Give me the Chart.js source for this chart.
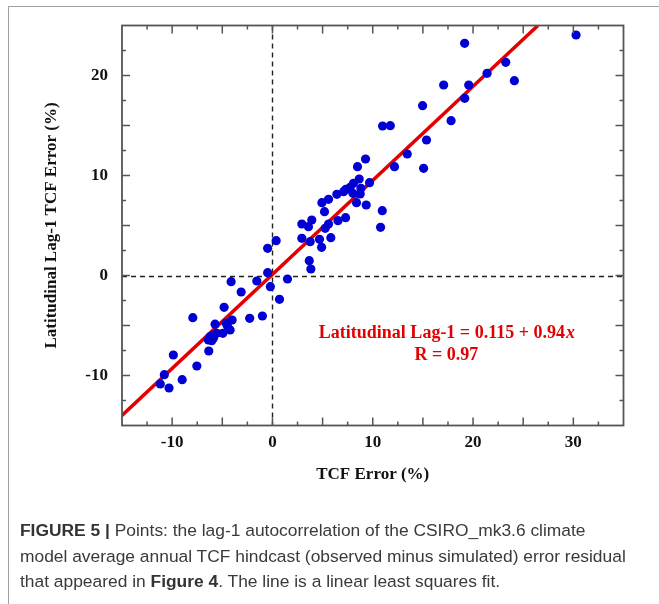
<!DOCTYPE html>
<html><head><meta charset="utf-8">
<script src="https://cdn.jsdelivr.net/npm/chart.js@4/dist/chart.umd.min.js"></script>
<style>
html,body{margin:0;padding:0;background:#fff;}
#wrap{position:relative;width:659px;height:604px;overflow:hidden;background:#fff;}
#frame{position:absolute;left:8px;top:6px;width:800px;height:800px;border-left:1px solid #a0a0a0;border-top:1px solid #a0a0a0;}
#c{position:absolute;left:0;top:0;}
#cap{position:absolute;left:20px;top:518px;white-space:nowrap;font-family:"Liberation Sans",Arial,sans-serif;font-size:17.4px;line-height:25.5px;color:#3a3a3a;}
#cap b{color:#333;}
</style></head>
<body>
<div id="wrap">
<div id="frame"></div>
<canvas id="c" width="659" height="604"></canvas>
<div id="cap"><b>FIGURE 5 |</b> Points: the lag-1 autocorrelation of the CSIRO_mk3.6 climate<br>model average annual TCF hindcast (observed minus simulated) error residual<br>that appeared in <b>Figure 4</b>. The line is a linear least squares fit.</div>
</div>
<script>
// TCF error (%) values of each point
const tcfError = [
 30.27, 19.16, 23.26, 21.4, 24.12, 17.07, 19.57, 19.17, 14.97, 17.81, 10.98, 11.75, 15.36, 13.44, 12.17, 15.07,
 9.28, 8.48, 8.65, 8.08, 9.68, 7.75, 7.32, 8.82, 7.09, 6.42, 8.02, 8.75, 5.59, 4.93, 8.38, 9.35, 5.19, 10.95,
 3.92, 2.93, 3.59, 7.29, 6.53, 5.59, 5.26, 10.78, 2.93, 3.76, 4.69, 5.82, 4.9, 3.67, 3.83,
 -0.48, 0.37, -0.48, -0.21, 1.5, 0.7, -1.56, -4.12, -3.12, -4.82, -7.94, -2.27, -1.0,
 -5.72, -4.62, -4.02, -4.49, -4.22, -4.95, -5.55, -5.89, -6.22, -6.39, -5.89, -6.05, -6.35,
 -9.88, -7.54, -10.78, -9.0, -11.18, -10.31
];
// Latitudinal lag-1 TCF error (%) values of each point
const lagError = [
 24.05, 23.22, 21.32, 20.22, 19.48, 19.05, 19.05, 17.72, 16.98, 15.48, 14.95, 14.98, 13.55, 12.15, 10.88, 10.72,
 11.65, 10.88, 9.65, 9.22, 9.28, 8.82, 8.62, 8.72, 8.38, 8.12, 8.22, 8.15, 7.62, 7.28, 7.28, 7.05, 6.38, 6.48,
 5.55, 5.15, 4.88, 5.78, 5.48, 5.15, 4.72, 4.82, 3.72, 3.38, 3.62, 3.78, 2.82, 1.48, 0.65,
 2.72, 3.48, 0.28, -1.12, -0.35, -2.38, -0.55, -0.62, -1.65, -3.18, -4.22, -4.28, -4.05,
 -4.87, -4.77, -4.45, -5.05, -5.45, -5.78, -5.78, -5.95, -6.12, -6.45, -6.28, -6.52, -7.55,
 -7.95, -9.05, -9.92, -10.42, -10.85, -11.25
];
// least squares fit line endpoints
const fitX = [-15, 26.47];
const fitY = [-13.985, 25.0];
const xTickLabels = [-10, 0, 10, 20, 30];
const yTickLabels = [-10, 0, 10, 20];
const fitLabel1 = 'Latitudinal Lag-1 = 0.115 + 0.94';
const fitLabel1Var = 'x';
const fitLabel2 = 'R = 0.97';

const serif = '"Liberation Serif","Times New Roman",serif';
const RED = '#e40000';
const BLUE = '#0000d4';

const decor = {
  id: 'decor',
  beforeDatasetsDraw(chart) {
    const {ctx, chartArea: a, scales: {x, y}} = chart;
    ctx.save();
    ctx.strokeStyle = '#222';
    ctx.lineWidth = 1.4;
    ctx.setLineDash([5, 4]);
    const x0 = Math.round(x.getPixelForValue(0)) + 0.5;
    const y0 = Math.round(y.getPixelForValue(0)) + 0.5;
    ctx.beginPath(); ctx.moveTo(x0, a.top); ctx.lineTo(x0, a.bottom); ctx.stroke();
    ctx.beginPath(); ctx.moveTo(a.left, y0); ctx.lineTo(a.right, y0); ctx.stroke();
    ctx.restore();
  },
  afterDatasetsDraw(chart) {
    const {ctx, chartArea: a, scales: {x, y}} = chart;
    ctx.save();
    ctx.strokeStyle = '#555';
    ctx.lineWidth = 1.8;
    ctx.strokeRect(a.left, a.top, a.right - a.left, a.bottom - a.top);
    ctx.lineWidth = 1.5;
    for (let v = x.min + 2.5; v < x.max; v += 2.5) {
      const p = x.getPixelForValue(v);
      const L = (Math.abs(v % 5) < 1e-6) ? 8 : 4;
      ctx.beginPath();
      ctx.moveTo(p, a.bottom); ctx.lineTo(p, a.bottom - L);
      ctx.moveTo(p, a.top); ctx.lineTo(p, a.top + L);
      ctx.stroke();
    }
    for (let v = y.min + 2.5; v < y.max; v += 2.5) {
      const p = y.getPixelForValue(v);
      const L = (Math.abs(v % 5) < 1e-6) ? 8 : 4;
      ctx.beginPath();
      ctx.moveTo(a.left, p); ctx.lineTo(a.left + L, p);
      ctx.moveTo(a.right, p); ctx.lineTo(a.right - L, p);
      ctx.stroke();
    }
    // fit annotation
    const cx = x.getPixelForValue(17.34);
    const cy1 = y.getPixelForValue(-5.75);
    const cy2 = y.getPixelForValue(-7.95);
    ctx.fillStyle = RED;
    ctx.textBaseline = 'middle';
    const f1 = 'bold 18px ' + serif, f2 = 'italic bold 18px ' + serif;
    ctx.font = f1; const w1 = ctx.measureText(fitLabel1).width;
    ctx.font = f2; const w2 = ctx.measureText(fitLabel1Var).width;
    const sx = cx - (w1 + w2) / 2;
    ctx.textAlign = 'left';
    ctx.font = f1; ctx.fillText(fitLabel1, sx, cy1);
    ctx.font = f2; ctx.fillText(fitLabel1Var, sx + w1 + 1, cy1);
    ctx.font = f1; ctx.textAlign = 'center';
    ctx.fillText(fitLabel2, cx, cy2);
    ctx.restore();
  }
};

const tickFont = {family: serif, size: 17, weight: 'bold'};
new Chart(document.getElementById('c'), {
  type: 'scatter',
  data: {
    datasets: [
      {
        type: 'scatter',
        data: tcfError.map((v, i) => ({x: v, y: lagError[i]})),
        backgroundColor: BLUE, borderWidth: 0, pointRadius: 4.6, pointHoverRadius: 4.6, order: 0
      },
      {
        type: 'line',
        data: fitX.map((v, i) => ({x: v, y: fitY[i]})),
        borderColor: RED, borderWidth: 3.5, pointRadius: 0, fill: false, order: 1
      }
    ]
  },
  plugins: [decor],
  options: {
    responsive: false, animation: false, devicePixelRatio: 1,
    layout: {padding: {left: 0, right: 35.5, top: 25.5, bottom: 108.5}},
    plugins: {legend: {display: false}, tooltip: {enabled: false}},
    events: [],
    scales: {
      x: {
        type: 'linear', min: -15, max: 35, position: 'bottom',
        grid: {display: false, drawTicks: false}, border: {display: false},
        afterBuildTicks: s => { s.ticks = xTickLabels.map(v => ({value: v})); },
        afterFit: s => { s.height = 70; },
        ticks: {font: tickFont, color: '#111', padding: 7, maxRotation: 0, autoSkip: false},
        title: {display: true, text: 'TCF Error (%)', font: tickFont, color: '#111', padding: {top: 0, bottom: 10.3}}
      },
      y: {
        type: 'linear', min: -15, max: 25, position: 'left',
        grid: {display: false, drawTicks: false}, border: {display: false},
        afterBuildTicks: s => { s.ticks = yTickLabels.map(v => ({value: v})); },
        afterFit: s => { s.width = 122; },
        ticks: {font: tickFont, color: '#111', padding: 14, autoSkip: false},
        title: {display: true, text: 'Latitudinal Lag-1 TCF Error (%)', font: tickFont, color: '#111', padding: {top: 41, bottom: 0}}
      }
    }
  }
});
</script>
</body></html>
